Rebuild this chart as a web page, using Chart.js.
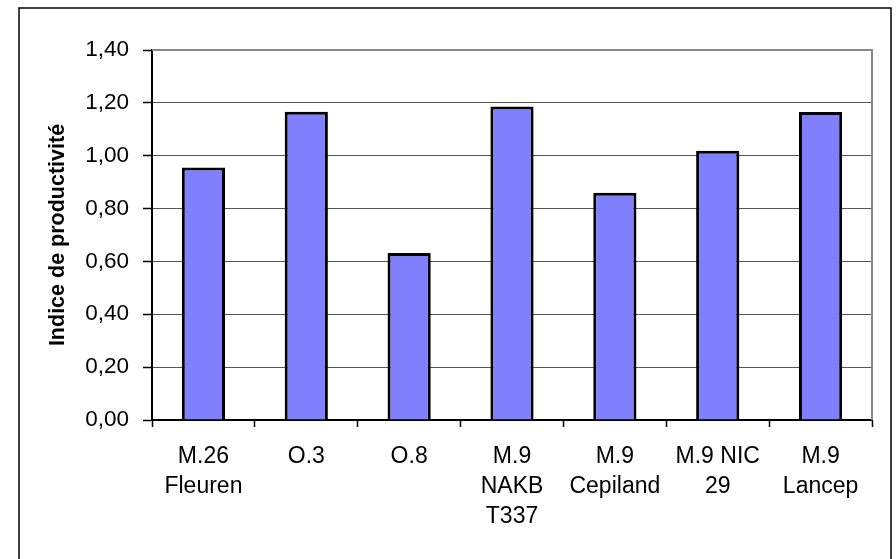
<!DOCTYPE html>
<html lang="fr">
<head>
    <meta charset="UTF-8">
    <title>Indice de productivité</title>
    <script src="https://cdn.jsdelivr.net/npm/chart.js"></script>
    <style>
        html, body { margin: 0; padding: 0; background: #fff; }
        #wrap { width: 896px; height: 559px; }
    </style>
</head>
<body>
    <div id="wrap"><canvas id="chart" width="896" height="559"></canvas></div>

    <script>
        // Data
        const categories = [
            ["M.26", "Fleuren"],
            ["O.3"],
            ["O.8"],
            ["M.9", "NAKB", "T337"],
            ["M.9", "Cepiland"],
            ["M.9 NIC", "29"],
            ["M.9", "Lancep"]
        ];
        const values = [0.955, 1.166, 0.632, 1.186, 0.86, 1.019, 1.165];
        const yTicks = ["0,00", "0,20", "0,40", "0,60", "0,80", "1,00", "1,20", "1,40"];
        const yTitle = "Indice de productivité";

        const FONT = "'Liberation Sans', Arial, sans-serif";

        // white background, outer frame and grey plot border
        const framePlugin = {
            id: "frame",
            beforeDraw(chart) {
                const ctx = chart.ctx;
                ctx.save();
                ctx.fillStyle = "#fff";
                ctx.fillRect(0, 0, chart.width, chart.height);
                ctx.restore();
            },
            afterDatasetsDraw(chart) {
                const { ctx, chartArea: a } = chart;
                ctx.save();
                ctx.strokeStyle = "#888";
                ctx.lineWidth = 2;
                ctx.beginPath();
                ctx.moveTo(a.left, a.top);
                ctx.lineTo(a.right, a.top);
                ctx.lineTo(a.right, a.bottom);
                ctx.stroke();
                ctx.strokeStyle = "#000";
                ctx.lineWidth = 1.5;
                ctx.strokeRect(19, 8, 872, 560);
                ctx.restore();
            }
        };

        new Chart(document.getElementById("chart"), {
            type: "bar",
            data: {
                labels: categories,
                datasets: [{
                    data: values,
                    backgroundColor: "#8080FF",
                    borderColor: "#000",
                    borderWidth: 3,
                    categoryPercentage: 1,
                    barPercentage: 0.42
                }]
            },
            options: {
                responsive: false,
                animation: false,
                layout: { padding: { left: 0, top: 50, right: 24, bottom: 0 } },
                plugins: {
                    legend: { display: false },
                    tooltip: { enabled: false }
                },
                scales: {
                    x: {
                        grid: {
                            offset: true,
                            drawOnChartArea: false,
                            drawTicks: true,
                            tickLength: 7,
                            tickColor: "#000",
                            tickWidth: 1.5
                        },
                        border: { color: "#000", width: 2 },
                        ticks: {
                            color: "#000",
                            padding: 15,
                            maxRotation: 0,
                            autoSkip: false,
                            font: { family: FONT, size: 23, lineHeight: 30 / 23 }
                        },
                        afterFit(scale) { scale.height = 139; }
                    },
                    y: {
                        min: 0,
                        max: 1.4,
                        ticks: {
                            stepSize: 0.2,
                            color: "#000",
                            padding: 14,
                            font: { family: FONT, size: 22.5 },
                            callback: (v, i) => yTicks[i]
                        },
                        grid: {
                            color: "#555",
                            lineWidth: 1,
                            tickLength: 9,
                            tickColor: "#000",
                            tickWidth: 1.5
                        },
                        border: { color: "#000", width: 2 },
                        title: {
                            display: true,
                            text: yTitle,
                            color: "#000",
                            font: { family: FONT, size: 21.5, weight: "bold" },
                            padding: { top: 45, bottom: 0 }
                        },
                        afterFit(scale) { scale.width = 152; }
                    }
                }
            },
            plugins: [framePlugin]
        });
    </script>
</body>
</html>
